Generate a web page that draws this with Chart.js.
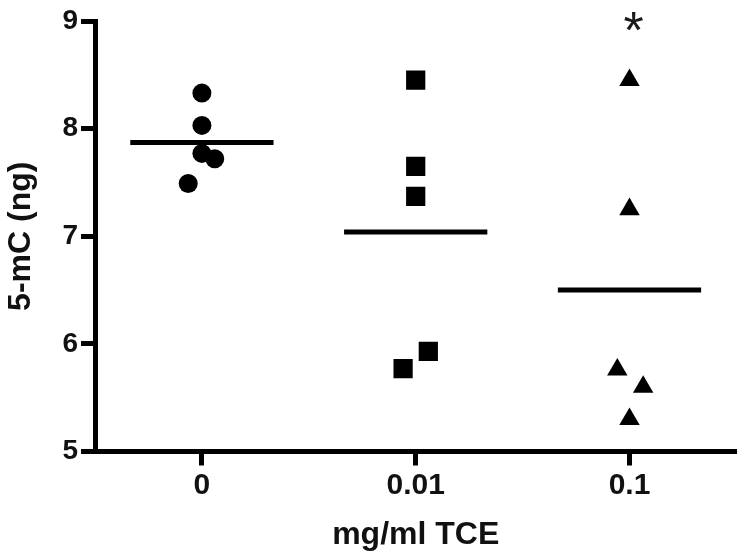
<!DOCTYPE html>
<html>
<head>
<meta charset="utf-8">
<script src="https://cdn.jsdelivr.net/npm/chart.js@4/dist/chart.umd.min.js"></script>
<style>
  html, body { margin: 0; padding: 0; background: #ffffff; }
  #wrap { width: 750px; height: 559px; }
</style>
</head>
<body>
<div id="wrap"><canvas id="c" width="750" height="559"></canvas></div>
<script>
// ---- data ----
const categories = ['0', '0.01', '0.1'];
const xAxisTitle = 'mg/ml TCE';
const yAxisTitle = '5-mC (ng)';
const yTicks = [5, 6, 7, 8, 9];

const controlValues  = [8.33, 8.03, 7.77, 7.72, 7.49];
const controlJitter  = [0, 0, 0, 0.06, -0.064];
const lowDoseValues  = [8.45, 7.65, 7.37, 5.93, 5.77];
const lowDoseJitter  = [0, 0, 0, 0.059, -0.059];
const highDoseValues = [8.45, 7.25, 5.76, 5.60, 5.30];
const highDoseJitter = [0, 0, -0.057, 0.064, 0];
const groupMeans     = [7.87, 7.04, 6.50];
const significance   = ['', '', '*'];

// ---- build datasets ----
const groups = [
  { values: controlValues,  jitter: controlJitter,  style: 'circle',   radius: 9.5 },
  { values: lowDoseValues,  jitter: lowDoseJitter,  style: 'rect',     radius: 13.6 },
  { values: highDoseValues, jitter: highDoseJitter, style: 'triangle', radius: 11.8 }
];
const meanHalfWidth = 0.335;

const datasets = [];
groups.forEach((g, i) => {
  datasets.push({
    type: 'scatter',
    data: g.values.map((v, k) => ({ x: i + g.jitter[k], y: v })),
    pointStyle: g.style,
    pointRadius: g.radius,
    pointHoverRadius: g.radius,
    backgroundColor: '#000',
    borderColor: '#000',
    borderWidth: 0
  });
});
groupMeans.forEach((m, i) => {
  datasets.push({
    type: 'line',
    data: [{ x: i - meanHalfWidth, y: m }, { x: i + meanHalfWidth, y: m }],
    borderColor: '#000',
    borderWidth: 5,
    pointRadius: 0,
    fill: false
  });
});

const FONT = '"Liberation Sans", Arial, sans-serif';

const sigPlugin = {
  id: 'sig',
  afterDatasetsDraw(chart) {
    const { ctx, scales } = chart;
    ctx.save();
    ctx.fillStyle = '#1a1a1a';
    ctx.font = '52px ' + FONT;
    ctx.textAlign = 'center';
    ctx.textBaseline = 'alphabetic';
    significance.forEach((s, i) => {
      if (!s) return;
      const x = scales.x.getPixelForValue(i) + 4;
      const y = scales.y.getPixelForValue(yTicks[yTicks.length - 1]) + 27;
      ctx.fillText(s, x, y);
    });
    ctx.restore();
  }
};

new Chart(document.getElementById('c'), {
  type: 'scatter',
  data: { datasets },
  plugins: [sigPlugin],
  options: {
    responsive: false,
    animation: false,
    layout: { padding: { left: 0, right: 9, top: 21, bottom: 0 } },
    plugins: { legend: { display: false }, tooltip: { enabled: false } },
    scales: {
      x: {
        type: 'linear',
        min: -0.5,
        max: 2.5,
        afterFit(scale) {
          scale.height = 107.5;
          scale.paddingLeft = 0;
          scale.paddingRight = 0;
        },
        afterBuildTicks(scale) {
          scale.ticks = categories.map((c, i) => ({ value: i }));
        },
        ticks: {
          callback: (v) => categories[v] !== undefined ? categories[v] : '',
          color: '#111',
          font: { family: FONT, size: 30, weight: 'bold' },
          padding: 2,
          maxRotation: 0,
          autoSkip: false
        },
        grid: {
          drawOnChartArea: false,
          drawTicks: true,
          tickLength: 14,
          tickWidth: 5,
          tickColor: '#000',
          color: '#000'
        },
        border: { display: true, color: '#000', width: 5 },
        title: {
          display: true,
          text: xAxisTitle,
          color: '#111',
          font: { family: FONT, size: 32, weight: 'bold' },
          padding: { top: 0, bottom: 5 }
        }
      },
      y: {
        type: 'linear',
        min: yTicks[0],
        max: yTicks[yTicks.length - 1],
        afterFit(scale) { scale.width = 95; },
        afterBuildTicks(scale) {
          scale.ticks = yTicks.map(v => ({ value: v }));
        },
        ticks: {
          color: '#111',
          font: { family: FONT, size: 28, weight: 'bold' },
          padding: 3
        },
        grid: {
          drawOnChartArea: false,
          drawTicks: true,
          tickLength: 14,
          tickWidth: 5,
          tickColor: '#000',
          color: '#000'
        },
        border: { display: true, color: '#000', width: 5 },
        title: {
          display: true,
          text: yAxisTitle,
          color: '#111',
          font: { family: FONT, size: 32, weight: 'bold' },
          padding: { top: 2, bottom: 0 }
        }
      }
    }
  }
});
</script>
</body>
</html>
